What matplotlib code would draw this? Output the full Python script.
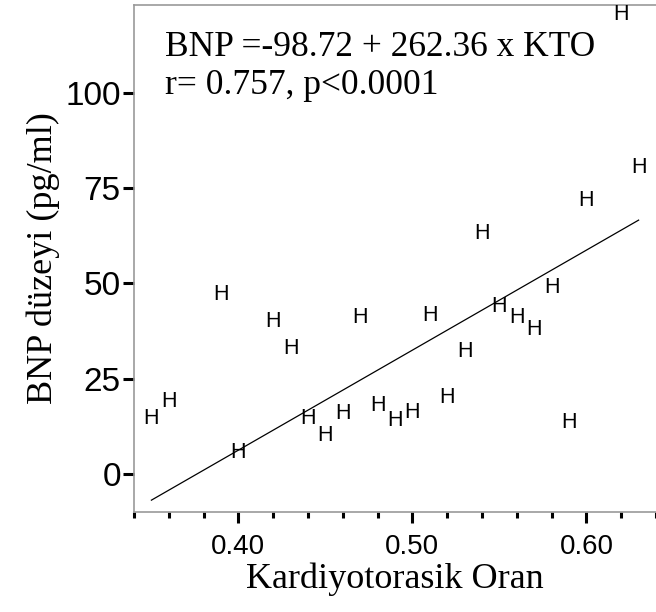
import matplotlib
matplotlib.use("Agg")
import matplotlib.pyplot as plt
import numpy as np
from matplotlib.ticker import MultipleLocator

# Kardiyotorasik oran (KTO) vs BNP
kto = [0.35, 0.36, 0.39, 0.40, 0.42, 0.43, 0.44, 0.45, 0.46, 0.47, 0.48, 0.49,
       0.50, 0.51, 0.52, 0.53, 0.54, 0.55, 0.56, 0.57, 0.58, 0.59, 0.60, 0.62, 0.63]
bnp = [14.5, 19.0, 47.0, 5.5, 40.0, 33.0, 14.5, 10.0, 15.8, 41.0, 18.0, 14.0,
       16.0, 41.5, 20.0, 32.0, 63.0, 44.0, 41.0, 38.0, 49.0, 13.5, 71.7, 120.5, 80.3]

intercept = -98.72
slope = 262.36
fit_range = [0.35, 0.63]

eq_text = "BNP =-98.72 + 262.36 x KTO"
r_text = "r= 0.757, p<0.0001"

fig = plt.figure(figsize=(6.56, 6.12), dpi=100)
ax = fig.add_axes([134 / 656, 1 - 512 / 612, 522 / 656, 507 / 612])

serif = ["Liberation Serif", "DejaVu Serif"]
sans = ["Liberation Sans", "DejaVu Sans"]

for x, y in zip(kto, bnp):
    ax.text(x, y, "H", ha="center", va="center", fontsize=15.5, family=sans)

xs = np.array(fit_range)
ax.plot(xs, intercept + slope * xs, color="black", lw=0.9)

ax.set_xlim(0.34, 0.64)
ax.set_ylim(-10, 123)

ax.xaxis.set_minor_locator(MultipleLocator(0.02))
ax.set_xticks([0.40, 0.50, 0.60])
ax.set_xticklabels(["0.40", "0.50", "0.60"])
ax.set_yticks([0, 25, 50, 75, 100])

ax.tick_params(axis="both", which="major", length=8, width=2.2, color="black")
ax.tick_params(axis="x", which="major", labelsize=20, pad=8)
ax.tick_params(axis="y", which="major", labelsize=24, pad=1.5)
ax.tick_params(axis="x", which="minor", length=4.3, width=2.2, color="black")
for lab in ax.get_xticklabels() + ax.get_yticklabels():
    lab.set_family(sans)

for side in ["left", "top", "bottom"]:
    ax.spines[side].set_color("#999999")
    ax.spines[side].set_linewidth(1.2)
ax.spines["right"].set_visible(False)

ax.set_xlabel("Kardiyotorasik Oran", fontsize=26, family=serif, labelpad=2)
ax.set_ylabel("BNP düzeyi (pg/ml)", fontsize=26, family=serif, labelpad=4)

ax.text(0.059, 0.917, eq_text, transform=ax.transAxes, fontsize=25.5,
        family=serif, va="center", ha="left")
ax.text(0.059, 0.842, r_text, transform=ax.transAxes, fontsize=25.5,
        family=serif, va="center", ha="left")

fig.savefig("out.png", dpi=100)
